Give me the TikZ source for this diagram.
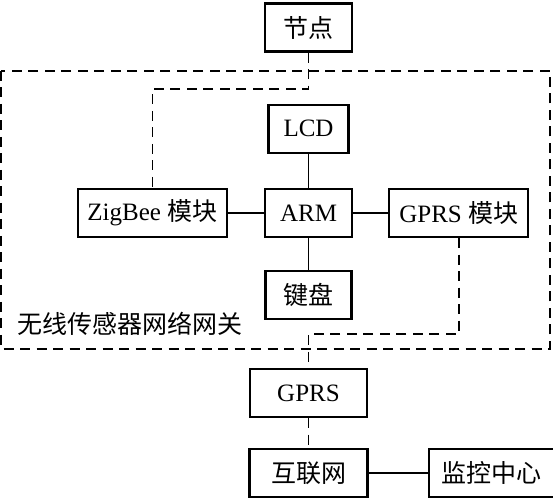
\documentclass[tikz,border=0pt]{standalone}
\usepackage{fontspec}
\setmainfont{Liberation Serif}
\newfontfamily\cjk{Noto Sans CJK SC}
\usepackage{tikz}
\usetikzlibrary{positioning}

\begin{document}
\begin{tikzpicture}[
    x=1pt, y=1pt,
    every node/.style={font=\fontsize{25}{30}\selectfont},
    blk/.style={draw, line width=2.2pt, minimum height=48pt, inner sep=0pt},
    link/.style={line width=1.7pt},
    dlink/.style={line width=1.6pt, dash pattern=on 10pt off 6.5pt}
]
    \useasboundingbox (0,0) rectangle (553,500);

    % Define nodes
    \node[blk, minimum width=87pt] (N) at (308.5,472.5) {\cjk 节点};
    \node[blk, minimum width=87pt] (ARM) at (308.5,287) {ARM};
    \node[blk, minimum width=80pt, above=34pt of ARM] (LCD) {LCD};
    \node[blk, minimum width=86pt, below=32pt of ARM] (KB) {\cjk 键盘};
    \node[blk, minimum width=149pt, left=36pt of ARM] (ZB) {ZigBee {\cjk 模块}};
    \node[blk, minimum width=139pt, right=35pt of ARM] (GM) {GPRS {\cjk 模块}};
    \node[blk, minimum width=117pt] (GPRS) at (308.5,107) {GPRS};
    \node[blk, minimum width=118pt, below=30pt of GPRS] (NET) {\cjk 互联网};
    \node[blk, minimum width=125pt, right=59pt of NET] (MC) {\cjk 监控中心};

    % Gateway frame
    \draw[dlink] (1,429) rectangle (550,151);
    \node[anchor=west, inner sep=0pt] (GW) at (17,176) {\cjk 无线传感器网络网关};

    % Draw links
    \draw[link] (LCD) -- (ARM);
    \draw[link] (ARM) -- (KB);
    \draw[link] (ZB) -- (ARM);
    \draw[link] (ARM) -- (GM);
    \draw[link] (NET) -- (MC);
    \draw[dlink] (N.south) -- ++(0,-36.6) -| (ZB.north);
    \draw[dlink] (GM.south) -- ++(0,-96) -| (GPRS.north);
    \draw[dlink] (GPRS) -- (NET);
\end{tikzpicture}
\end{document}
